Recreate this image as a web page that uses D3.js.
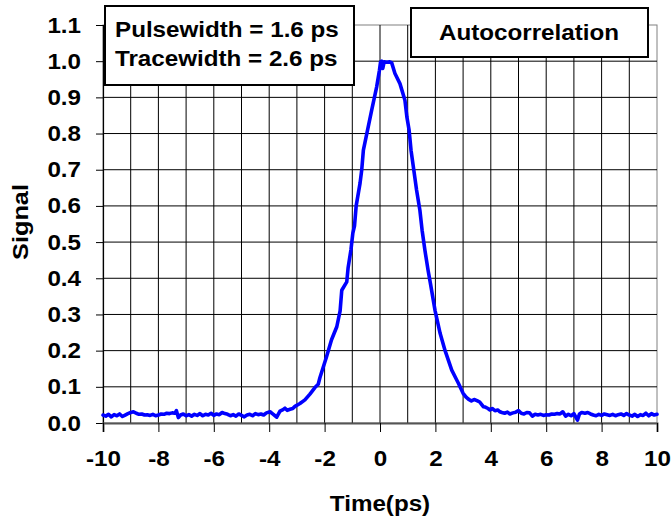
<!DOCTYPE html>
<html>
<head>
<meta charset="utf-8">
<script src="https://cdn.jsdelivr.net/npm/d3@7"></script>
<style>
  html, body { margin: 0; padding: 0; background: #fff; }
  svg { display: block; }
  text { font-family: "Liberation Sans", Arial, sans-serif; font-weight: bold; fill: #000; }
</style>
</head>
<body>
<svg id="chart" width="672" height="518"></svg>
<script>
// ---- data ----
const timePs = [
  -10.0, -9.9, -9.8, -9.7, -9.6, -9.5, -9.4, -9.3, -9.2, -9.1, -9.0, -8.9, -8.8, -8.7, -8.6, -8.5,
  -8.4, -8.3, -8.2, -8.1, -8.0, -7.9, -7.8, -7.7, -7.6, -7.5, -7.4, -7.35, -7.28, -7.2, -7.1, -7.0,
  -6.9, -6.8, -6.7, -6.6, -6.5, -6.4, -6.3, -6.2, -6.1, -6.0, -5.9, -5.8, -5.7, -5.6, -5.5, -5.4,
  -5.3, -5.2, -5.1, -5.0, -4.9, -4.8, -4.7, -4.6, -4.5, -4.4, -4.3, -4.2, -4.1,
  -3.97, -3.85, -3.73, -3.61, -3.5, -3.43, -3.35, -3.25, -3.15, -3.07, -2.89, -2.71, -2.53, -2.35,
  -2.23, -2.17, -1.93, -1.75, -1.56, -1.44, -1.38, -1.2, -1.15, -1.05, -0.98, -0.92, -0.86, -0.72,
  -0.66, -0.6, -0.3, -0.12, -0.02, 0.02, 0.06, 0.1, 0.15, 0.25, 0.35, 0.42,
  0.54, 0.72, 0.9, 0.97, 1.05, 1.12, 1.22, 1.32, 1.44, 1.52, 1.62, 1.74, 1.82, 1.99, 2.17, 2.35,
  2.59, 2.77, 2.83, 3.0, 3.1, 3.19, 3.3, 3.4, 3.5, 3.6, 3.68, 3.73, 3.8, 3.9,
  3.97, 4.05, 4.15, 4.25, 4.33, 4.4, 4.5, 4.6, 4.69, 4.8, 4.9, 5.0, 5.1, 5.2, 5.3, 5.4, 5.5, 5.6,
  5.7, 5.8, 5.9, 6.0, 6.1, 6.2, 6.3, 6.4, 6.5, 6.6, 6.7, 6.8, 6.9, 7.0, 7.13, 7.2, 7.28, 7.4, 7.5,
  7.6, 7.7, 7.8, 7.9, 8.0, 8.1, 8.2, 8.3, 8.4, 8.5, 8.6, 8.7, 8.8, 8.9, 9.0, 9.1, 9.2, 9.3, 9.4,
  9.5, 9.6, 9.7, 9.8, 9.9, 10.0
];
const signal = [
  0.022, 0.019, 0.024, 0.017, 0.023, 0.020, 0.025, 0.018, 0.022, 0.026, 0.029, 0.031, 0.027, 0.024, 0.025, 0.022,
  0.023, 0.021, 0.024, 0.020, 0.022, 0.025, 0.024, 0.027, 0.026, 0.028, 0.027, 0.034, 0.015, 0.022, 0.025, 0.020,
  0.023, 0.019, 0.024, 0.021, 0.026, 0.020, 0.024, 0.022, 0.027, 0.021, 0.025, 0.023, 0.029, 0.026, 0.024, 0.020,
  0.023, 0.019, 0.025, 0.021, 0.017, 0.022, 0.024, 0.020, 0.026, 0.023, 0.025, 0.022, 0.028,
  0.031, 0.024, 0.016, 0.033, 0.037, 0.041, 0.035, 0.038, 0.040, 0.046, 0.054, 0.064, 0.080, 0.098,
  0.107, 0.125, 0.183, 0.230, 0.266, 0.310, 0.367, 0.390, 0.430, 0.478, 0.525, 0.545, 0.600, 0.663,
  0.699, 0.754, 0.865, 0.929, 0.975, 0.998, 1.000, 0.980, 0.998, 0.997, 0.998, 0.996,
  0.966, 0.938, 0.892, 0.846, 0.810, 0.754, 0.699, 0.644, 0.588, 0.533, 0.478, 0.420, 0.386, 0.310, 0.248, 0.200,
  0.146, 0.119, 0.110, 0.082, 0.072, 0.066, 0.061, 0.065, 0.062, 0.058, 0.050, 0.045, 0.044, 0.040,
  0.036, 0.040, 0.034, 0.036, 0.031, 0.029, 0.027, 0.030, 0.025, 0.028, 0.030, 0.034, 0.027, 0.025, 0.029, 0.028, 0.019, 0.024,
  0.022, 0.024, 0.021, 0.023, 0.022, 0.025, 0.024, 0.026, 0.025, 0.031, 0.019, 0.024, 0.020, 0.026, 0.008, 0.025, 0.029, 0.027, 0.029,
  0.025, 0.022, 0.020, 0.024, 0.021, 0.025, 0.023, 0.021, 0.024, 0.020, 0.023, 0.025, 0.021, 0.026, 0.022, 0.019, 0.024, 0.018, 0.023,
  0.021, 0.027, 0.020, 0.026, 0.022, 0.024
];
const xTickValues = [-10, -8, -6, -4, -2, 0, 2, 4, 6, 8, 10];
const yTickValues = [0.0, 0.1, 0.2, 0.3, 0.4, 0.5, 0.6, 0.7, 0.8, 0.9, 1.0, 1.1];
const xGridValues = [-9, -8, -7, -6, -5, -4, -3, -2, -1, 0, 1, 2, 3, 4, 5, 6, 7, 8, 9];
const boxLines = ["Pulsewidth = 1.6 ps", "Tracewidth = 2.6 ps"];
const titleText = "Autocorrelation";
const xTitle = "Time(ps)";
const yTitle = "Signal";

// ---- layout ----
const W = 672, H = 518;
const margin = { left: 103, top: 25, right: 15, bottom: 95 };
const iw = W - margin.left - margin.right;
const ih = H - margin.top - margin.bottom;
const SX = 1.1; // horizontal text stretch
const FS = 22;

const svg = d3.select("#chart");
const g = svg.append("g").attr("transform", `translate(${margin.left},${margin.top})`);

const x = d3.scaleLinear().domain([-10, 10]).range([0, iw]);
const y = d3.scaleLinear().domain([0, 1.1]).range([ih, 0]);

// plot border (grey)
g.append("rect").attr("x", 0).attr("y", 0).attr("width", iw).attr("height", ih)
  .attr("fill", "none").attr("stroke", "#808080").attr("stroke-width", 1);

// grid
g.append("g").selectAll("line").data(xGridValues).join("line")
  .attr("x1", d => x(d)).attr("x2", d => x(d)).attr("y1", 0).attr("y2", ih)
  .attr("stroke", "#000").attr("stroke-width", 1);
g.append("g").selectAll("line").data(yTickValues.filter(v => v > 0 && v < 1.05)).join("line")
  .attr("x1", 0).attr("x2", iw).attr("y1", d => y(d)).attr("y2", d => y(d))
  .attr("stroke", "#000").attr("stroke-width", 1);

// axes
const yAxis = g.append("g").call(
  d3.axisLeft(y).tickValues(yTickValues).tickSize(7).tickFormat(d3.format(".1f"))
);
yAxis.select(".domain").attr("stroke", "#000").attr("stroke-width", 1.2);
yAxis.selectAll(".tick line").attr("stroke", "#000");
yAxis.selectAll(".tick text")
  .attr("font-size", FS).attr("font-family", "Liberation Sans, Arial, sans-serif").attr("font-weight", "bold")
  .attr("x", -22 / SX).attr("transform", `scale(${SX},1)`);

const xAxis = g.append("g").attr("transform", `translate(0,${ih})`).call(
  d3.axisBottom(x).tickValues(xTickValues).tickSize(9).tickPadding(18).tickFormat(d => String(d))
);
xAxis.select(".domain").attr("stroke", "#555").attr("stroke-width", 2);
xAxis.selectAll(".tick line").attr("stroke", "#000");
xAxis.selectAll(".tick text")
  .attr("font-size", FS).attr("font-family", "Liberation Sans, Arial, sans-serif").attr("font-weight", "bold")
  .attr("transform", `scale(${SX},1)`);

// data line
const line = d3.line().x((d, i) => x(timePs[i])).y(d => y(d));
g.append("path").datum(signal).attr("d", line)
  .attr("fill", "none").attr("stroke", "#0000ff").attr("stroke-width", 3.6)
  .attr("stroke-linejoin", "round").attr("stroke-linecap", "round");

// text boxes
svg.append("rect").attr("x", 105).attr("y", 6).attr("width", 249).attr("height", 79)
  .attr("fill", "#fff").attr("stroke", "#000").attr("stroke-width", 2);
svg.append("g").selectAll("text").data(boxLines).join("text")
  .attr("transform", (d, i) => `translate(115,${37 + i * 28.5}) scale(${SX},1)`)
  .attr("font-size", FS).text(d => d);

svg.append("rect").attr("x", 411).attr("y", 8).attr("width", 237).attr("height", 49)
  .attr("fill", "#fff").attr("stroke", "#000").attr("stroke-width", 2);
svg.append("text").attr("transform", `translate(529,40) scale(${SX},1)`)
  .attr("text-anchor", "middle").attr("font-size", FS).text(titleText);

// axis titles
svg.append("text").attr("transform", `translate(380,511) scale(${SX},1)`)
  .attr("text-anchor", "middle").attr("font-size", FS).text(xTitle);
svg.append("text").attr("transform", `translate(28,222) rotate(-90) scale(1.15,1)`)
  .attr("text-anchor", "middle").attr("font-size", FS).text(yTitle);
</script>
</body>
</html>
